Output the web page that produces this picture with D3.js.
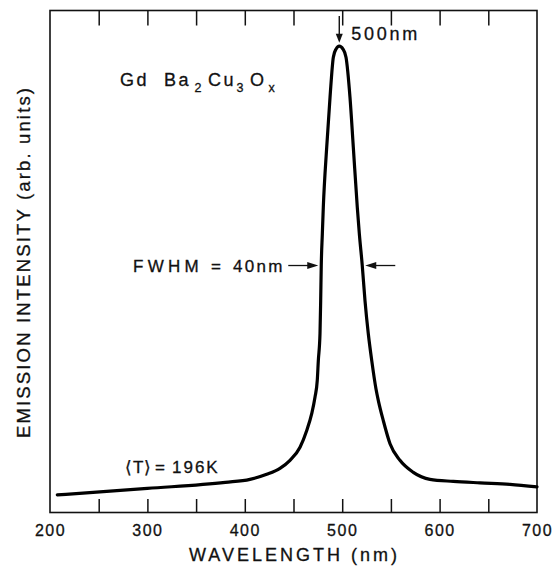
<!DOCTYPE html>
<head>
  <meta charset="utf-8">
  <script src="https://d3js.org/d3.v7.min.js"></script>
  <style>
    body { margin: 0; background: #fff; }
    svg { display: block; background-color: #fff; }
    text { font-family: "Liberation Sans", Arial, Helvetica, sans-serif; fill: #111; stroke: #111; stroke-width: 0.3px; }
    .axis text { font-size: 16px; letter-spacing: 1.5px; }
  </style>
</head>
<body>
  <svg id="chart" width="553" height="566"></svg>
  <script>
    // spectrum (nm, arb. units)
    var wavelength = [207.5, 300, 380, 405.3, 422.5, 436.1, 446.4, 456.7, 463.5, 468.7, 472.1, 474.4,
      475.5, 477.2, 477.9, 478.5, 479.6, 480.6, 484.1, 487.5, 490.9, 493.6, 497, 500.8, 503.9, 508, 511.4, 515.5, 517.6,
      520.6, 523.4, 526.8, 530.3, 534.7, 537.1, 542.2, 549.1, 559.3, 573, 590.1, 614.1, 641.5, 672.3, 700];
    var intensity = [3.5, 4.8, 6.0, 6.6, 7.6, 8.8, 10.4, 13.0, 16.3, 19.7, 23.0, 26.3,
      30.3, 35.6, 42.2, 49.2, 55.5, 60.8, 72.8, 82.7, 90.7, 92.3, 92.9, 92.3, 90.7, 82.7, 72.8, 60.8, 55.5,
      49.2, 42.2, 35.6, 30.3, 24.6, 22.3, 18.3, 13.7, 10.4, 8.0, 6.6, 6.2, 5.9, 5.6, 5.1];

    var labelTicks = [200, 300, 400, 500, 600, 700];
    var minorTicks = [250, 300, 350, 400, 450, 500, 550, 600, 650];

    // annotation values
    var peakNm = 497;
    var fwhmLo = 478.5, fwhmHi = 520.6, halfLevel = 49.2;

    var svg = d3.select("#chart");
    var plotL = 50, plotR = 537, plotT = 10.5, plotB = 512.5;

    var x = d3.scaleLinear().domain([200, 700]).range([plotL, plotR]);
    var y = d3.scaleLinear().domain([0, 100]).range([plotB, plotT]);

    // frame
    svg.append("rect")
      .attr("x", plotL).attr("y", plotT)
      .attr("width", plotR - plotL).attr("height", plotB - plotT)
      .attr("fill", "none").attr("stroke", "#111").attr("stroke-width", 1.6);

    // inward ticks, bottom and top
    svg.append("g").attr("class", "axis")
      .attr("transform", "translate(0," + plotB + ")")
      .call(d3.axisBottom(x).tickValues(minorTicks).tickSize(-13.5).tickFormat(""))
      .call(function (g) { g.select(".domain").remove(); })
      .selectAll("line").attr("stroke", "#111").attr("stroke-width", 1.5);

    svg.append("g").attr("class", "axis")
      .attr("transform", "translate(0," + plotT + ")")
      .call(d3.axisTop(x).tickValues(minorTicks).tickSize(-15).tickFormat(""))
      .call(function (g) { g.select(".domain").remove(); })
      .selectAll("line").attr("stroke", "#111").attr("stroke-width", 1.5);

    // tick labels
    var lab = svg.append("g").attr("class", "axis")
      .attr("transform", "translate(0," + plotB + ")")
      .call(d3.axisBottom(x).tickValues(labelTicks).tickSize(0).tickPadding(12).tickFormat(d3.format("d")));
    lab.select(".domain").remove();
    lab.selectAll("text").attr("fill", "#111").style("font-size", "16px");

    // axis titles
    svg.append("text")
      .attr("x", 293).attr("y", 561)
      .attr("text-anchor", "middle")
      .attr("textLength", 208).attr("lengthAdjust", "spacing")
      .style("font-size", "18px")
      .text("WAVELENGTH (nm)");

    svg.append("text")
      .attr("transform", "translate(30,263) rotate(-90)")
      .attr("text-anchor", "middle")
      .attr("textLength", 350).attr("lengthAdjust", "spacing")
      .style("font-size", "18.5px")
      .text("EMISSION INTENSITY (arb. units)");

    // curve
    var pts = wavelength.map(function (w, i) { return [w, intensity[i]]; });
    var line = d3.line()
      .x(function (d) { return x(d[0]); })
      .y(function (d) { return y(d[1]); })
      .curve(d3.curveMonotoneX);

    svg.append("path")
      .datum(pts)
      .attr("d", line)
      .attr("fill", "none")
      .attr("stroke", "#000")
      .attr("stroke-width", 3.2)
      .attr("stroke-linejoin", "round")
      .attr("stroke-linecap", "round");

    // peak arrow
    var px = x(peakNm), pyTip = y(d3.max(intensity)) - 3.5;
    svg.append("line")
      .attr("x1", px).attr("x2", px).attr("y1", 16).attr("y2", pyTip - 6)
      .attr("stroke", "#111").attr("stroke-width", 1.4);
    svg.append("path")
      .attr("d", "M" + (px - 3.5) + "," + (pyTip - 9) + "L" + (px + 3.5) + "," + (pyTip - 9) + "L" + px + "," + pyTip + "Z")
      .attr("fill", "#111");
    svg.append("text")
      .attr("x", px + 12).attr("y", 40)
      .attr("textLength", 66).attr("lengthAdjust", "spacing")
      .style("font-size", "18px")
      .text("500nm");

    // FWHM arrows
    var hy = y(halfLevel);
    function arrow(xTip, dir) {
      // dir: +1 points right, -1 points left
      svg.append("line")
        .attr("x1", xTip - dir * 30).attr("x2", xTip - dir * 8)
        .attr("y1", hy).attr("y2", hy)
        .attr("stroke", "#111").attr("stroke-width", 1.3);
      svg.append("path")
        .attr("d", "M" + (xTip - dir * 11) + "," + (hy - 3.5) + "L" + xTip + "," + hy + "L" + (xTip - dir * 11) + "," + (hy + 3.5) + "Z")
        .attr("fill", "#111");
    }
    arrow(x(fwhmLo) - 3, 1);
    arrow(x(fwhmHi) + 3, -1);

    var fw = svg.append("text").attr("y", hy + 6).style("font-size", "17px");
    fw.append("tspan").attr("x", 133).style("letter-spacing", "4.3px").text("FWHM");
    fw.append("tspan").attr("x", 211).text("=");
    fw.append("tspan").attr("x", 233).style("letter-spacing", "2.3px").text("40nm");

    // compound label
    var comp = svg.append("text").attr("x", 120).attr("y", 86)
      .style("font-size", "18px").style("letter-spacing", "2.5px");
    comp.append("tspan").text("Gd");
    comp.append("tspan").attr("x", 164).text("Ba");
    comp.append("tspan").attr("x", 194.5).attr("dy", 6).style("font-size", "12.5px").text("2");
    comp.append("tspan").attr("x", 208).attr("dy", -6).text("Cu");
    comp.append("tspan").attr("x", 236.5).attr("dy", 6).style("font-size", "12.5px").text("3");
    comp.append("tspan").attr("x", 250).attr("dy", -6).text("O");
    comp.append("tspan").attr("x", 268.5).attr("dy", 6).style("font-size", "12.5px").text("x");

    // temperature label
    var tl = svg.append("text").attr("y", 473).style("font-size", "17px");
    tl.append("tspan").attr("x", 125).style("letter-spacing", "1px").text("\u27E8T\u27E9");
    tl.append("tspan").attr("x", 155).text("=");
    tl.append("tspan").attr("x", 172).style("letter-spacing", "2px").text("196K");
  </script>
</body>
</html>
